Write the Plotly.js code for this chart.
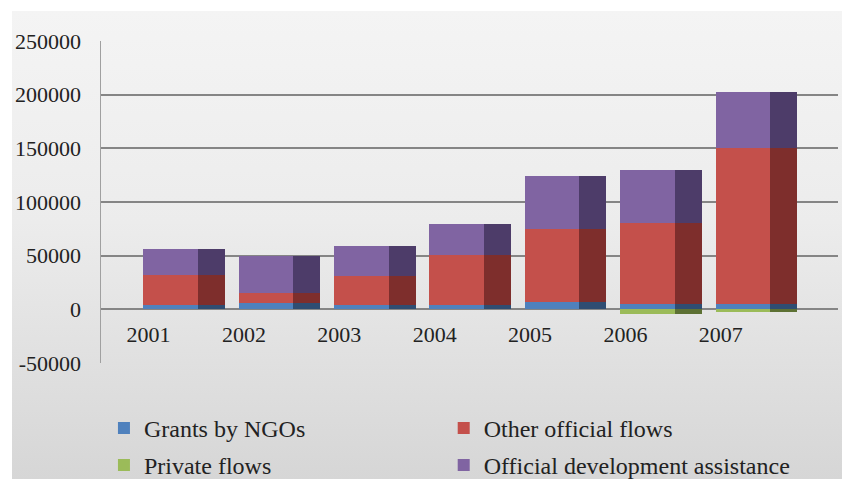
<!DOCTYPE html>
<html><head><meta charset="utf-8">
<script src="https://cdn.plot.ly/plotly-3.0.1.min.js"></script>
<style>
html,body{margin:0;padding:0;background:#fff;}
#wrap{position:relative;width:842px;height:479px;overflow:hidden;}
#bg{position:absolute;left:12px;top:11px;right:0;bottom:0;background:linear-gradient(to bottom,#f4f4f4 0%,#ececec 45%,#d6d6d6 100%);}
#chart{position:absolute;left:0;top:0;width:842px;height:479px;}
</style></head>
<body><div id="wrap"><div id="bg"></div><div id="chart"></div></div>
<script>
// ---- data ----
const years = ['2001','2002','2003','2004','2005','2006','2007'];
const catPos = [0,1,2,3,4,5,6];
const grantsNGOs    = [4500, 5800, 4500, 4500, 6800, 5300, 5000];
const otherOfficial = [27200, 9400, 26200, 46000, 68200, 75100, 145000];
const privateFlows  = [0, 0, 0, 0, 0, -4500, -2500];
const oda           = [24900, 34500, 28000, 28800, 49500, 49300, 52900];
const yTickVals   = [-50000, 0, 50000, 100000, 150000, 200000, 250000];
const yTickLabels = ['-50000','0','50000','100000','150000','200000','250000'];

const series = [
  {name:'Grants by NGOs', y:grantsNGOs, front:'#4F81BD', side:'#2F4D72', legend:'legend'},
  {name:'Other official flows', y:otherOfficial, front:'#C4504B', side:'#7E2E2C', legend:'legend2'},
  {name:'Private flows', y:privateFlows, front:'#9BBB59', side:'#5D7134', legend:'legend3'},
  {name:'Official development assistance', y:oda, front:'#8064A2', side:'#4D3C69', legend:'legend4'}
];

const traces = [];
series.forEach(s => {
  traces.push({type:'bar', name:s.name, x:catPos, y:s.y, offset:-0.055, width:0.573,
    marker:{color:s.front, line:{width:0}}, legend:s.legend, xaxis:'x', yaxis:'y', hoverinfo:'y+name'});
});
series.forEach(s => {
  traces.push({type:'bar', name:s.name, x:catPos, y:s.y, offset:0.518, width:0.283,
    marker:{color:s.side, line:{width:0}}, showlegend:false, xaxis:'x2', yaxis:'y', hoverinfo:'skip'});
});

const FAM = "'Liberation Serif', 'DejaVu Serif', 'Times New Roman', Times, serif";
const font = {family:FAM, size:22, color:'#222'};
const legFont = {family:FAM, size:24, color:'#222'};
function leg(x, y){ return {x:x, y:y, xanchor:'left', yanchor:'middle', orientation:'h',
  bgcolor:'rgba(0,0,0,0)', borderwidth:0, font:legFont}; }

const layout = {
  width:842, height:479,
  margin:{l:101, r:4, t:41, b:116, autoexpand:false},
  paper_bgcolor:'rgba(0,0,0,0)', plot_bgcolor:'rgba(0,0,0,0)',
  barmode:'relative', bargap:0,
  font:font,
  showlegend:true,
  xaxis:{range:[-0.498, 7.228], fixedrange:true, tickvals:catPos, ticktext:years,
    showgrid:false, zeroline:false, showline:false, anchor:'free', position:0.1667,
    ticks:'outside', ticklen:5, tickcolor:'rgba(0,0,0,0)', tickfont:font},
  xaxis2:{range:[-0.498, 7.228], overlaying:'x', visible:false, fixedrange:true},
  yaxis:{range:[-50000, 250000], tickvals:yTickVals, ticktext:yTickLabels, fixedrange:true,
    showgrid:true, gridcolor:'#858585', gridwidth:2, zeroline:false,
    showline:true, linecolor:'#a0a0a0', linewidth:1.5,
    ticks:'outside', ticklen:14, tickcolor:'rgba(0,0,0,0)', tickfont:font},
  legend:leg(0.004, -0.203),
  legend2:leg(0.465, -0.203),
  legend3:leg(0.004, -0.318),
  legend4:leg(0.465, -0.318)
};

Plotly.newPlot('chart', traces, layout, {displayModeBar:false, staticPlot:true});
</script>
</body></html>
